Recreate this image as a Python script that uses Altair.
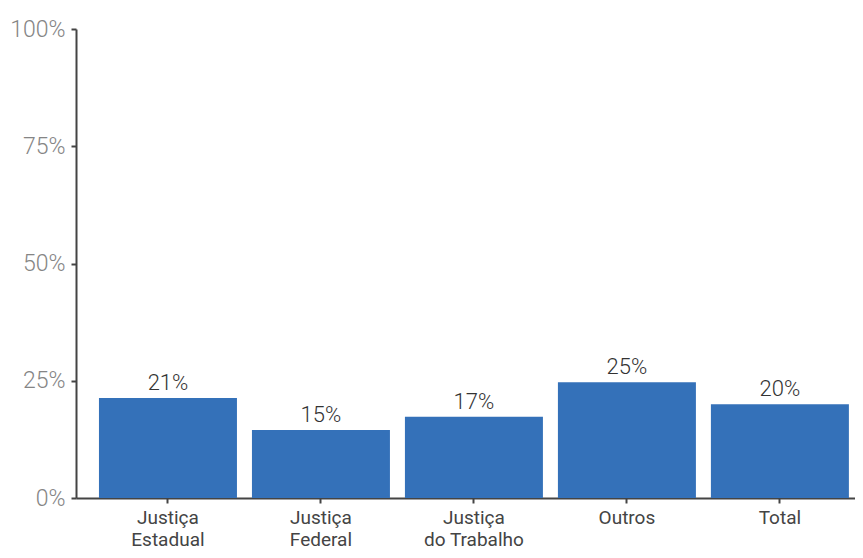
import altair as alt
import pandas as pd

categories = ["Justiça\nEstadual", "Justiça\nFederal", "Justiça\ndo Trabalho", "Outros", "Total"]
values = [0.213, 0.145, 0.173, 0.247, 0.200]
labels = ["21%", "15%", "17%", "25%", "20%"]
y_ticks = [0, 0.25, 0.5, 0.75, 1.0]

df = pd.DataFrame({"cat": categories, "val": values, "lab": labels})

x = alt.X("cat:N", sort=None, title=None,
          scale=alt.Scale(paddingInner=0.098, paddingOuter=0.095, align=0.79),
          axis=alt.Axis(labelAngle=0, labelExpr="split(datum.label, '\\n')",
                        labelFontSize=19, labelColor="#444444", labelFont="Roboto",
                        labelLineHeight=22, labelPadding=5, tickSize=5, tickWidth=2,
                        tickColor="#444444", domainColor="#444444", domainWidth=2))
y = alt.Y("val:Q", title=None,
          scale=alt.Scale(domain=[0, 1]),
          axis=alt.Axis(values=y_ticks, format=".0%", grid=False,
                        labelFontSize=23, labelColor="#858585", labelFont="Roboto",
                        labelFontWeight=300, labelPadding=6, tickSize=5, tickWidth=2,
                        tickColor="#444444", domainColor="#444444", domainWidth=2))

bars = alt.Chart(df).mark_bar(color="#3471b9").encode(x=x, y=y)
text = alt.Chart(df).mark_text(baseline="bottom", dy=-3, fontSize=22, font="Roboto",
                               fontWeight=300, color="#333333").encode(
    x=alt.X("cat:N", sort=None), y="val:Q", text="lab:N")

chart = (bars + text).properties(
    width=779, height=469,
    autosize=alt.AutoSizeParams(type="none"),
    padding={"left": 68, "top": 21, "right": 0, "bottom": 52},
).configure_view(stroke=None)

chart.save("out.html", embed_options={"renderer": "svg", "actions": False})
